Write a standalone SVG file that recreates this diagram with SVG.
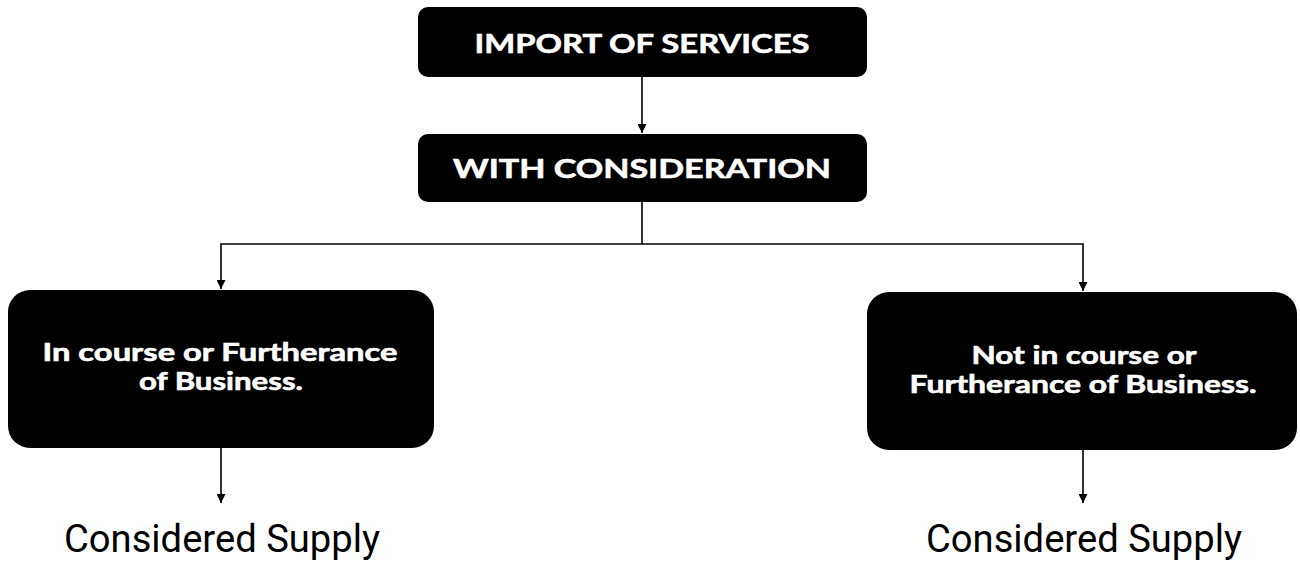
<svg xmlns="http://www.w3.org/2000/svg" width="1300" height="562" viewBox="0 0 1300 562">
  <style>
    .box { fill: #000; }
    .lbl { fill: #fff; stroke: #fff; stroke-width: 0.6; font-family: Lato, "Open Sans", sans-serif; font-weight: 700; font-size: 24px; text-anchor: middle; }
    .head { font-size: 27px; }
    .out { fill: #000; font-family: Roboto, "Liberation Sans", sans-serif; font-size: 39px; text-anchor: middle; }
    .wire { fill: none; stroke: #000; stroke-width: 1.6; }
  </style>
  <defs>
    <marker id="arrow" viewBox="0 0 10 10" refX="10" refY="5" markerWidth="9" markerHeight="9" markerUnits="userSpaceOnUse" orient="auto">
      <path d="M0,0 L10,5 L0,10 Z" fill="#000"/>
    </marker>
  </defs>
  <rect width="1300" height="562" fill="#fff"/>

  <g id="connectors">
    <line class="wire" x1="642" y1="77" x2="642" y2="133" marker-end="url(#arrow)"/>
    <path class="wire" d="M642,202 V244 H221 V289" marker-end="url(#arrow)"/>
    <path class="wire" d="M642,244 H1083 V291" marker-end="url(#arrow)"/>
    <line class="wire" x1="221" y1="448" x2="221" y2="503" marker-end="url(#arrow)"/>
    <line class="wire" x1="1083" y1="450" x2="1083" y2="503" marker-end="url(#arrow)"/>
  </g>

  <g id="import-of-services">
    <rect class="box" x="418" y="7" width="449" height="70" rx="10"/>
    <text class="lbl head" x="642" y="53" textLength="335" lengthAdjust="spacingAndGlyphs">IMPORT OF SERVICES</text>
  </g>

  <g id="with-consideration">
    <rect class="box" x="418" y="134" width="449" height="68" rx="10"/>
    <text class="lbl head" x="642" y="178" textLength="378" lengthAdjust="spacingAndGlyphs">WITH CONSIDERATION</text>
  </g>

  <g id="in-course">
    <rect class="box" x="8" y="290" width="426" height="158" rx="22"/>
    <text class="lbl" x="220" y="361" textLength="355" lengthAdjust="spacingAndGlyphs">In course or Furtherance</text>
    <text class="lbl" x="221" y="390" textLength="164" lengthAdjust="spacingAndGlyphs">of Business.</text>
  </g>

  <g id="not-in-course">
    <rect class="box" x="867" y="292" width="430" height="158" rx="22"/>
    <text class="lbl" x="1084" y="364" textLength="225" lengthAdjust="spacingAndGlyphs">Not in course or</text>
    <text class="lbl" x="1083" y="393" textLength="347" lengthAdjust="spacingAndGlyphs">Furtherance of Business.</text>
  </g>

  <g id="supply-left">
    <text class="out" x="222" y="552" textLength="316" lengthAdjust="spacingAndGlyphs">Considered Supply</text>
  </g>

  <g id="supply-right">
    <text class="out" x="1084" y="552" textLength="316" lengthAdjust="spacingAndGlyphs">Considered Supply</text>
  </g>
</svg>
